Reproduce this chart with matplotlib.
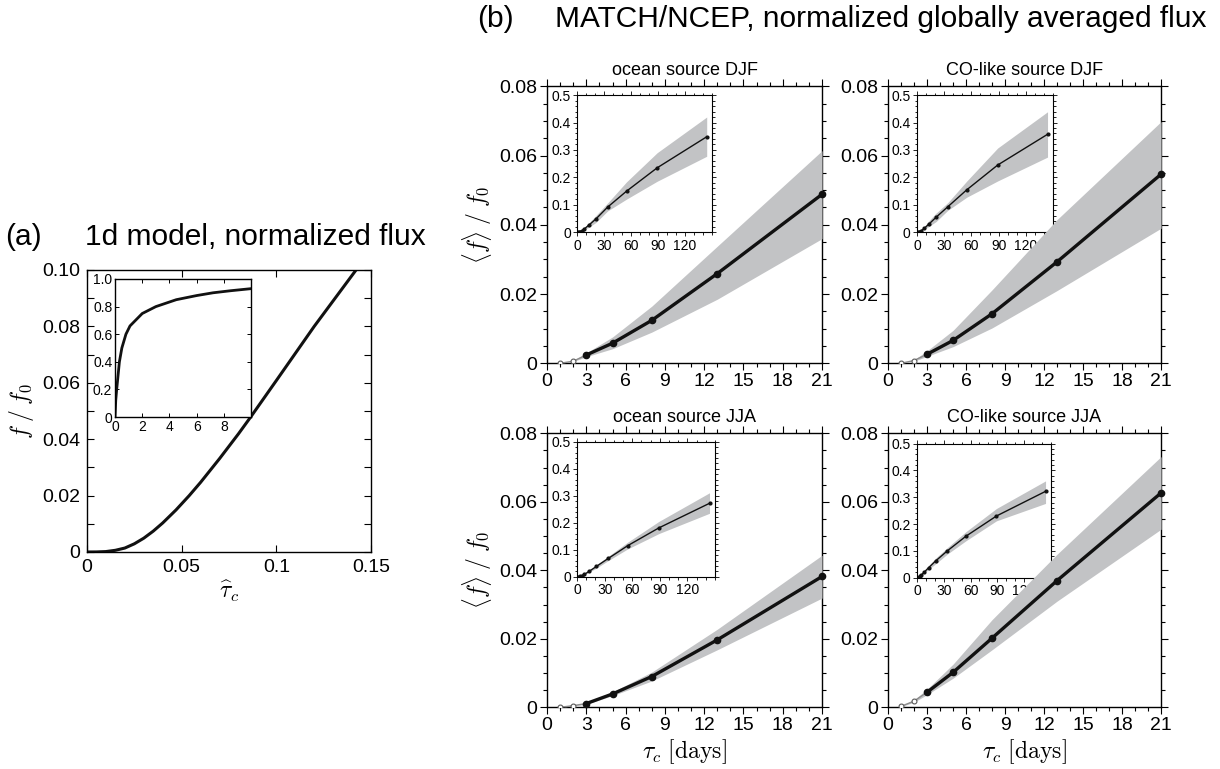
"""1d model flux and MATCH/NCEP globally averaged flux vs. tau_c."""

import matplotlib
matplotlib.use("Agg")
import matplotlib.pyplot as plt
from matplotlib.ticker import MultipleLocator, FixedLocator, FixedFormatter

plt.rcParams["font.family"] = ["Liberation Sans", "DejaVu Sans"]
plt.rcParams["mathtext.fontset"] = "cm"

# ---- panel (a): 1d model ----
tau_hat = [0, 0.005, 0.01, 0.015, 0.02, 0.025, 0.03, 0.035, 0.04, 0.047, 0.054, 0.06,
           0.07, 0.08, 0.0867, 0.10, 0.12, 0.1421, 0.15]
flux_1d = [0, 0.00002, 0.00015, 0.0006, 0.0014, 0.0029, 0.0049, 0.0074, 0.0103, 0.0149,
           0.0200, 0.0247, 0.0331, 0.0419, 0.0481, 0.0608, 0.0800, 0.1000, 0.1076]
tau_hat_in = [0, 0.05, 0.12, 0.2, 0.32, 0.5, 0.8, 1.1, 1.5, 2.0, 3.0, 4.5, 6.0, 7.2, 8.5, 10]
flux_1d_in = [0, 0.12, 0.2, 0.28, 0.4, 0.5, 0.6, 0.66, 0.7, 0.75, 0.8, 0.85, 0.88, 0.9, 0.915, 0.93]

# ---- panel (b): MATCH/NCEP ----
tau_days = [1, 2, 3, 5, 8, 13, 21, 34, 55, 89, 144]
panel_titles = ["ocean source DJF", "CO-like source DJF", "ocean source JJA", "CO-like source JJA"]

ocean_djf_mean = [0.0, 0.0006, 0.0024, 0.0058, 0.0124, 0.0259, 0.0488, 0.092, 0.150, 0.235, 0.348]
ocean_djf_lo = [0.0, 0.0005, 0.0019, 0.0042, 0.0090, 0.0185, 0.0360, 0.078, 0.121, 0.186, 0.277]
ocean_djf_hi = [0.0, 0.0008, 0.0030, 0.0076, 0.0165, 0.0338, 0.0614, 0.107, 0.184, 0.290, 0.420]

co_djf_mean = [0.0, 0.0008, 0.0026, 0.0066, 0.0143, 0.0293, 0.0546, 0.093, 0.155, 0.245, 0.357]
co_djf_lo = [0.0, 0.0006, 0.0020, 0.0048, 0.0102, 0.0210, 0.0390, 0.080, 0.128, 0.187, 0.274]
co_djf_hi = [0.0, 0.0010, 0.0036, 0.0095, 0.0212, 0.0415, 0.0698, 0.108, 0.187, 0.307, 0.439]

ocean_jja_mean = [0.0, 0.0005, 0.0011, 0.0039, 0.0090, 0.0197, 0.0382, 0.068, 0.115, 0.181, 0.272]
ocean_jja_lo = [0.0, 0.0004, 0.0009, 0.0034, 0.0077, 0.0168, 0.0319, 0.060, 0.103, 0.160, 0.235]
ocean_jja_hi = [0.0, 0.0006, 0.0013, 0.0045, 0.0103, 0.0228, 0.0444, 0.076, 0.128, 0.205, 0.311]

co_jja_mean = [0.0003, 0.0018, 0.0044, 0.0102, 0.0202, 0.0370, 0.0626, 0.100, 0.155, 0.230, 0.322]
co_jja_lo = [0.0002, 0.0015, 0.0037, 0.0085, 0.0168, 0.0310, 0.0520, 0.088, 0.138, 0.212, 0.277]
co_jja_hi = [0.0004, 0.0022, 0.0053, 0.0126, 0.0256, 0.0447, 0.0732, 0.112, 0.172, 0.258, 0.361]

main_yticks = [0, 0.02, 0.04, 0.06, 0.08]
main_ylabels = ["0", "0.02", "0.04", "0.06", "0.08"]
main_xticks = [0, 3, 6, 9, 12, 15, 18, 21]
inset_yticks = [0, 0.1, 0.2, 0.3, 0.4, 0.5]
inset_ylabels = ["0", "0.1", "0.2", "0.3", "0.4", "0.5"]
inset_xticks = [0, 30, 60, 90, 120]
a_xticks = [0, 0.05, 0.1, 0.15]
a_xlabels = ["0", "0.05", "0.1", "0.15"]
a_yticks = [0, 0.02, 0.04, 0.06, 0.08, 0.10]
a_ylabels = ["0", "0.02", "0.04", "0.06", "0.08", "0.10"]
a_in_yticks = [0, 0.2, 0.4, 0.6, 0.8, 1.0]
a_in_ylabels = ["0", "0.2", "0.4", "0.6", "0.8", "1.0"]

BAND = "#c2c3c5"
TICK_FS = 14
INSET_FS = 10
LABEL_FS = 17
TITLE_FS = 21.5

fig = plt.figure(figsize=(12.2, 7.69), dpi=100)

# ---------------- panel (a) ----------------
ax_a = fig.add_axes([0.0713, 0.2822, 0.2328, 0.3667])
ax_a.plot(tau_hat, flux_1d, color="#111111", lw=2.2)
ax_a.set_xlim(0, 0.15)
ax_a.set_ylim(0, 0.10)
ax_a.xaxis.set_major_locator(FixedLocator(a_xticks))
ax_a.xaxis.set_major_formatter(FixedFormatter(a_xlabels))
ax_a.yaxis.set_major_locator(FixedLocator(a_yticks))
ax_a.yaxis.set_major_formatter(FixedFormatter(a_ylabels))
ax_a.yaxis.set_minor_locator(MultipleLocator(0.01))
ax_a.tick_params(which="both", direction="in", top=True, right=True, labelsize=TICK_FS, width=0.8)
ax_a.tick_params(which="major", length=5, pad=5)
ax_a.tick_params(which="minor", length=5)
ax_a.set_xlabel(r"$\widehat{\tau}_c$", fontsize=LABEL_FS, labelpad=2)
ax_a.set_ylabel(r"$f\;/\;f_0$", fontsize=LABEL_FS, labelpad=4)
for s in ax_a.spines.values():
    s.set_linewidth(1.0)

ax_ai = fig.add_axes([0.0943, 0.4577, 0.1115, 0.1795])
ax_ai.plot(tau_hat_in, flux_1d_in, color="#111111", lw=2.0)
ax_ai.set_xlim(0, 10)
ax_ai.set_ylim(0, 1.0)
ax_ai.xaxis.set_major_locator(FixedLocator([0, 2, 4, 6, 8]))
ax_ai.yaxis.set_major_locator(FixedLocator(a_in_yticks))
ax_ai.yaxis.set_major_formatter(FixedFormatter(a_in_ylabels))
ax_ai.tick_params(direction="in", top=True, right=True, labelsize=INSET_FS, length=3, width=0.7, pad=2)
for s in ax_ai.spines.values():
    s.set_linewidth(1.0)

fig.text(0.004, 0.692, "(a)", fontsize=TITLE_FS, va="center", ha="left")
fig.text(0.0697, 0.692, "1d model, normalized flux", fontsize=TITLE_FS, va="center", ha="left")

# ---------------- panel (b) ----------------
main_rects = [
    [0.4484, 0.5276, 0.2254, 0.3602],
    [0.7279, 0.5276, 0.2238, 0.3602],
    [0.4484, 0.0802, 0.2254, 0.3563],
    [0.7279, 0.0802, 0.2238, 0.3563],
]
inset_rects = [
    [0.4730, 0.6979, 0.1107, 0.1785],
    [0.7516, 0.6979, 0.1115, 0.1785],
    [0.4730, 0.2500, 0.1131, 0.1756],
    [0.7516, 0.2488, 0.1098, 0.1743],
]
series = [
    (ocean_djf_mean, ocean_djf_lo, ocean_djf_hi),
    (co_djf_mean, co_djf_lo, co_djf_hi),
    (ocean_jja_mean, ocean_jja_lo, ocean_jja_hi),
    (co_jja_mean, co_jja_lo, co_jja_hi),
]

n_main = 7  # points up to 21 days
for i, (mean, lo, hi) in enumerate(series):
    ax = fig.add_axes(main_rects[i])
    ax.fill_between(tau_days[:n_main], lo[:n_main], hi[:n_main], color=BAND, lw=0, zorder=6)
    ax.plot(tau_days[:3], mean[:3], color="0.55", lw=1.0, marker="o", ms=3.5,
            mfc="white", mec="0.35", mew=0.8, zorder=7)
    ax.plot(tau_days[2:n_main], mean[2:n_main], color="#111111", lw=2.4, marker="o",
            ms=4.5, zorder=8, clip_on=False)
    ax.set_xlim(0, 21)
    ax.set_ylim(0, 0.08)
    ax.xaxis.set_major_locator(FixedLocator(main_xticks))
    ax.xaxis.set_minor_locator(MultipleLocator(1))
    ax.yaxis.set_major_locator(FixedLocator(main_yticks))
    ax.yaxis.set_major_formatter(FixedFormatter(main_ylabels))
    ax.yaxis.set_minor_locator(MultipleLocator(0.005))
    ax.tick_params(which="both", direction="out", top=True, right=True, labelsize=TICK_FS, width=0.8)
    ax.tick_params(which="major", length=5, pad=2)
    ax.tick_params(which="minor", length=3)
    for s in ax.spines.values():
        s.set_linewidth(1.0)
    ax.set_title(panel_titles[i], fontsize=13, pad=8)
    if i % 2 == 0:
        ax.set_ylabel(r"$\langle f\rangle\;/\;f_0$", fontsize=LABEL_FS, labelpad=4)
    if i >= 2:
        ax.set_xlabel(r"$\tau_c\ [\mathrm{days}]$", fontsize=LABEL_FS, labelpad=2)

    ins = ax.inset_axes(inset_rects[i], transform=fig.transFigure, zorder=5)
    ins.fill_between(tau_days, lo, hi, color=BAND, lw=0)
    ins.plot(tau_days, mean, color="#111111", lw=1.0, marker="o", ms=2)
    ins.set_xlim(0, 150)
    ins.set_ylim(0, 0.5)
    ins.xaxis.set_major_locator(FixedLocator(inset_xticks))
    ins.xaxis.set_minor_locator(MultipleLocator(10))
    ins.yaxis.set_major_locator(FixedLocator(inset_yticks))
    ins.yaxis.set_major_formatter(FixedFormatter(inset_ylabels))
    ins.yaxis.set_minor_locator(MultipleLocator(0.02))
    ins.tick_params(which="both", direction="out", top=True, right=True, labelsize=INSET_FS,
                    width=0.6, pad=1.5)
    ins.tick_params(which="major", length=3)
    ins.tick_params(which="minor", length=1.8)
    for s in ins.spines.values():
        s.set_linewidth(0.8)

fig.text(0.391, 0.975, "(b)", fontsize=TITLE_FS, va="center", ha="left")
fig.text(0.455, 0.975, "MATCH/NCEP, normalized globally averaged flux", fontsize=TITLE_FS,
         va="center", ha="left")

fig.savefig("out.png", dpi=100)
